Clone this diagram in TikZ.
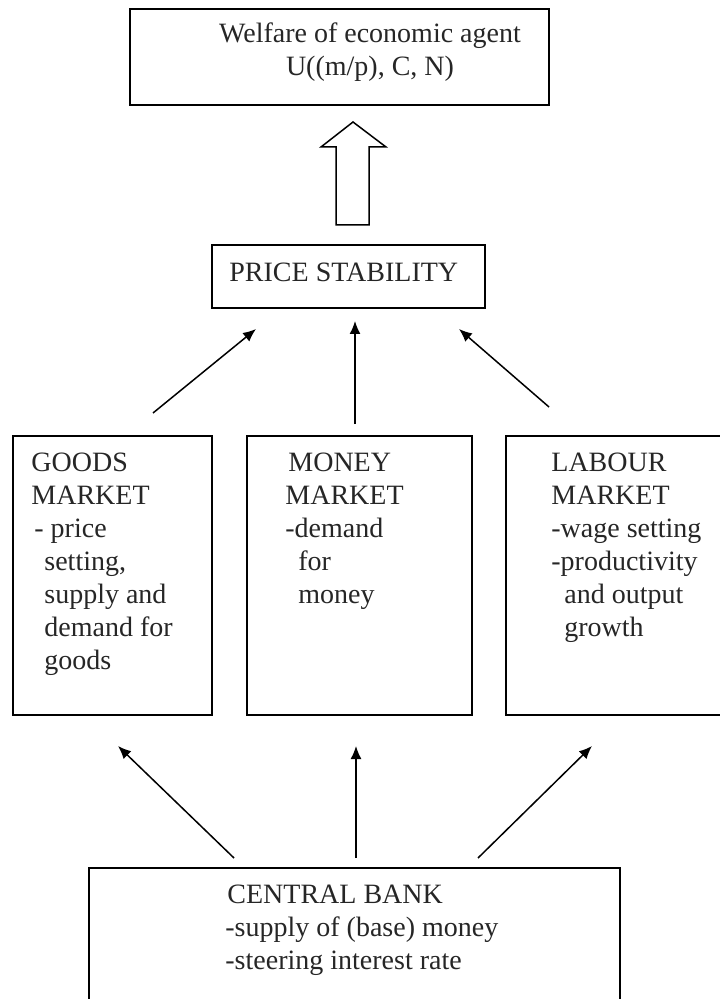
\documentclass[tikz,border=0pt]{standalone}
\usepackage{fontspec}
\setmainfont{Liberation Serif}
\usetikzlibrary{arrows.meta}

\tikzset{
  box/.style={draw, line width=1pt, inner sep=0pt},
  txt/.style={inner sep=0pt, align=left, anchor=base west, text=black!85,
    font=\fontsize{14}{16.5}\selectfont},
  link/.style={->, line width=0.75pt},
}

\begin{document}
\begin{tikzpicture}[x=0.5pt,y=-0.5pt,>={Latex[length=6.5pt,width=5.5pt]}]
\useasboundingbox (0,0) rectangle (719,999);

% boxes
\node[box, minimum width=209.5pt, minimum height=48pt] (welfare) at (339.5,57) {};
\node[box, minimum width=136.5pt, minimum height=31.5pt] (price) at (348.5,276.5) {};
\node[box, minimum width=99.5pt, minimum height=139.5pt] (goods) at (112.5,575.5) {};
\node[box, minimum width=112.5pt, minimum height=139.5pt] (money) at (359.5,575.5) {};
\node[box, minimum width=113pt, minimum height=139.5pt] (labour) at (619,575.5) {};
\node[box, minimum width=265.5pt, minimum height=71pt] (bank) at (354.5,939) {};

% texts (placed at the baseline of their last line)
\node[txt, anchor=base, align=center] (welfaretext) at (370,76)
  {Welfare of economic agent\\U((m/p), C, N)};
\node[txt] (pricetext) at (229,282) {PRICE STABILITY};
\node[txt] (goodstext) at (31,669)
  {GOODS\\MARKET\\\hspace{1.5pt}- price\\\hspace{6.5pt}setting,\\\hspace{6.5pt}supply and\\\hspace{6.5pt}demand for\\\hspace{6.5pt}goods};
\node[txt] (moneytext) at (285,603)
  {\hspace{1.5pt}MONEY\\MARKET\\-demand\\\hspace{6.5pt}for\\\hspace{6.5pt}money};
\node[txt] (labourtext) at (551,636)
  {LABOUR\\MARKET\\-wage setting\\-productivity\\\hspace{6.5pt}and output\\\hspace{6.5pt}growth};
\node[txt] (banktext) at (225,969)
  {\hspace{1pt}CENTRAL BANK\\-supply of (base) money\\-steering interest rate};

% wide arrow up to the welfare box
\draw[line width=0.75pt] (336,225) -- (336,147) -- (321,147) -- (353,122)
  -- (386,147) -- (369,147) -- (369,225) -- cycle;

% arrow ends
\coordinate (g1) at (153,413); \coordinate (p1) at (256,329);
\coordinate (m1) at (355,424); \coordinate (p2) at (355,321);
\coordinate (l1) at (549,407); \coordinate (p3) at (459,329);
\coordinate (b1) at (234,858); \coordinate (g2) at (118,746);
\coordinate (b2) at (356,858); \coordinate (m2) at (356,746);
\coordinate (b3) at (478,858); \coordinate (l2) at (592,746);

\draw[link] (g1) -- (p1);
\draw[link] (m1) -- (p2);
\draw[link] (l1) -- (p3);
\draw[link] (b1) -- (g2);
\draw[link] (b2) -- (m2);
\draw[link] (b3) -- (l2);
\end{tikzpicture}
\end{document}
